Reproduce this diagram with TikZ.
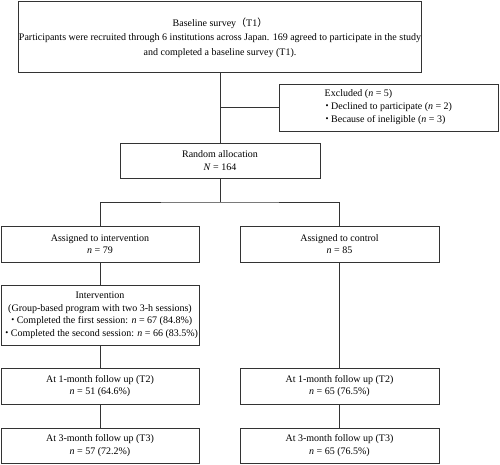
\documentclass[tikz,border=0pt]{standalone}
\usepackage{fontspec}
\setmainfont{Liberation Serif}
\newfontfamily\cjk{Noto Sans CJK JP}
\newcommand{\jdot}{{\cjk ・}}
\begin{document}
\begin{tikzpicture}[x=1pt,y=-1pt,
  box/.style={draw=black!80, line width=0.9pt, inner sep=0pt, align=center,
    font=\fontsize{10}{12.5}\selectfont},
  conn/.style={draw=black!80, line width=0.9pt},
  txt/.style={inner sep=0pt, align=left, font=\fontsize{10}{13}\selectfont}]
\useasboundingbox (0,0) rectangle (500,464);
\node[box, minimum width=399pt, minimum height=71pt,
  font=\fontsize{10}{14.5}\selectfont] (base) at (220,36.5)
  {\rule{0pt}{11pt}Baseline survey{\cjk （}T1{\cjk ）}\\
   Participants were recruited through 6 institutions across Japan. 169 agreed to participate in the study\\
   and completed a baseline survey (T1).};
\node[box, minimum width=219pt, minimum height=47pt] (excl) at (388.5,107.5) {};
\node[txt, anchor=west] (excltxt) at (322,107.5)
  {\ Excluded (\textit{n} = 5)\\
   \jdot\kern-0.1em Declined to participate (\textit{n} = 2)\\
   \jdot\kern-0.1em Because of ineligible (\textit{n} = 3)};
\node[box, minimum width=200pt, minimum height=35pt] (rand) at (220,160.5)
  {Random allocation\\\textit{N} = 164};
\node[box, minimum width=198pt, minimum height=36pt] (ai) at (100,244)
  {Assigned to intervention\\\textit{n} = 79};
\node[box, minimum width=199pt, minimum height=36pt] (ac) at (339.5,244)
  {Assigned to control\\\textit{n} = 85};
\node[box, minimum width=198pt, minimum height=60pt] (int) at (100,315)
  {Intervention\\
   (Group-based program with two 3-h sessions)\\
   \jdot\kern-0.1em Completed the first session: \textit{n} = 67 (84.8\%)\\
   \jdot\kern-0.1em Completed the second session: \textit{n} = 66 (83.5\%)};
\node[box, minimum width=198pt, minimum height=36pt] (i2) at (100,386)
  {At 1-month follow up (T2)\\\textit{n} = 51 (64.6\%)};
\node[box, minimum width=199pt, minimum height=36pt] (c2) at (339.5,386)
  {At 1-month follow up (T2)\\\textit{n} = 65 (76.5\%)};
\node[box, minimum width=198pt, minimum height=35pt] (i3) at (100,445.5)
  {At 3-month follow up (T3)\\\textit{n} = 57 (72.2\%)};
\node[box, minimum width=199pt, minimum height=35pt] (c3) at (339.5,445.5)
  {At 3-month follow up (T3)\\\textit{n} = 65 (76.5\%)};
\coordinate (bx) at (base.south |- excl.west);
\coordinate (split) at (220,202);
\draw[conn] (base.south) -- (rand.north);
\draw[conn] (bx) -- (excl.west);
\draw[conn] (rand.south) -- (split);
\draw[conn] (ai.north) |- (split) -| (ac.north);
\draw[conn] (ai.south) -- (int.north);
\draw[conn] (int.south) -- (i2.north);
\draw[conn] (i2.south) -- (i3.north);
\draw[conn] (ac.south) -- (c2.north);
\draw[conn] (c2.south) -- (c3.north);
\end{tikzpicture}
\end{document}
